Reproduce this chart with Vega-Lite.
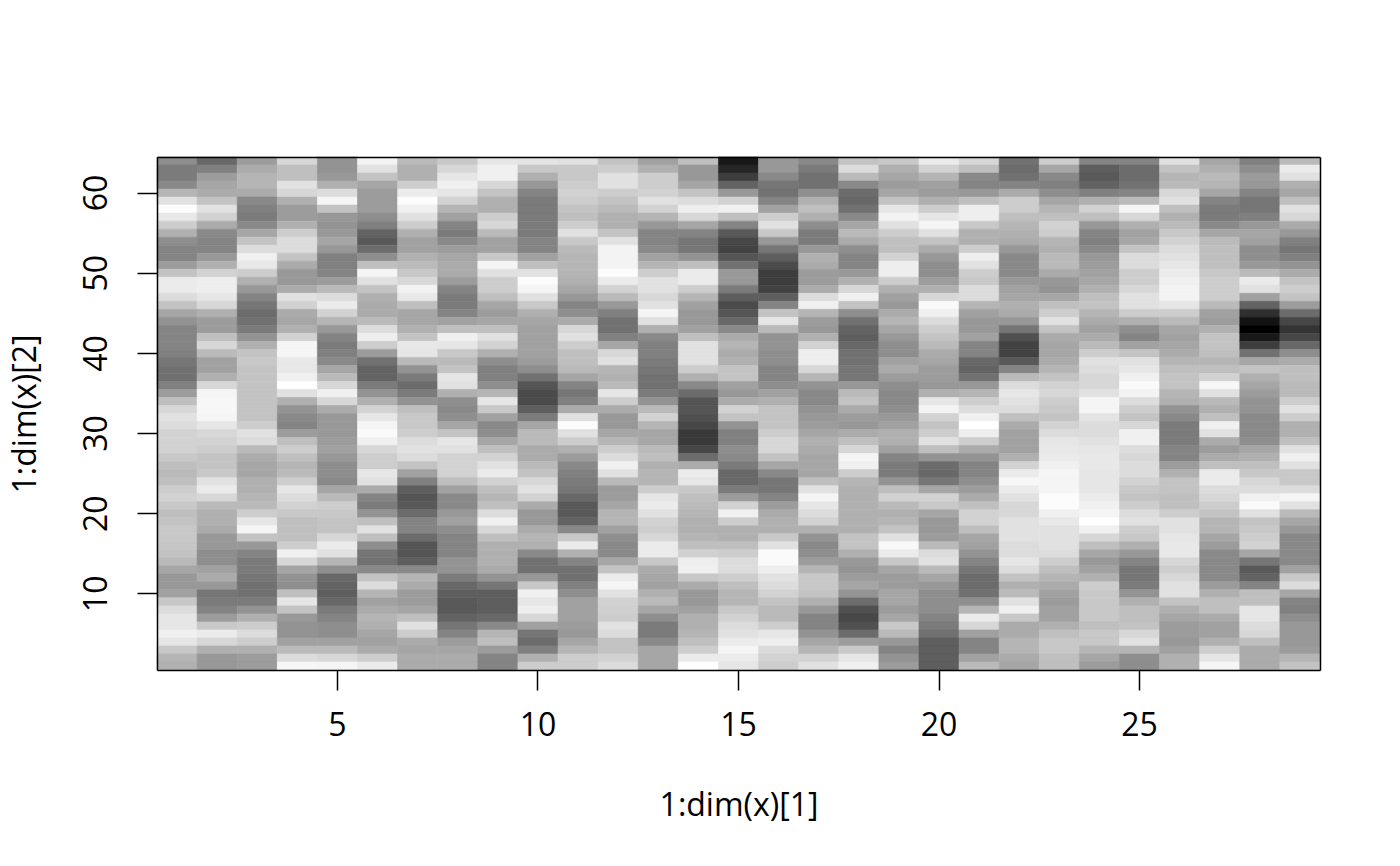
{"$schema":"https://vega.github.io/schema/vega-lite/v6.json","autosize":{"type":"none"},"padding":{"left":157,"top":157,"right":80,"bottom":196},"width":1163,"height":513,"background":"white","config":{"view":{"stroke":null},"font":"Open Sans"},
"data":{"values":[
{"x":1,"y":64,"v":140},{"x":1,"y":63,"v":120},{"x":1,"y":62,"v":120},{"x":1,"y":61,"v":135},{"x":1,"y":60,"v":180},{"x":1,"y":59,"v":225},{"x":1,"y":58,"v":252},{"x":1,"y":57,"v":232},{"x":1,"y":56,"v":205},{"x":1,"y":55,"v":175},{"x":1,"y":54,"v":140},{"x":1,"y":53,"v":130},{"x":1,"y":52,"v":130},{"x":1,"y":51,"v":155},{"x":1,"y":50,"v":195},{"x":1,"y":49,"v":235},{"x":1,"y":48,"v":235},{"x":1,"y":47,"v":220},{"x":1,"y":46,"v":195},{"x":1,"y":45,"v":165},{"x":1,"y":44,"v":145},{"x":1,"y":43,"v":130},{"x":1,"y":42,"v":130},{"x":1,"y":41,"v":130},{"x":1,"y":40,"v":125},{"x":1,"y":39,"v":115},{"x":1,"y":38,"v":110},{"x":1,"y":37,"v":110},{"x":1,"y":36,"v":125},{"x":1,"y":35,"v":155},{"x":1,"y":34,"v":190},{"x":1,"y":33,"v":215},{"x":1,"y":32,"v":225},{"x":1,"y":31,"v":220},{"x":1,"y":30,"v":210},{"x":1,"y":29,"v":210},{"x":1,"y":28,"v":210},{"x":1,"y":27,"v":200},{"x":1,"y":26,"v":190},{"x":1,"y":25,"v":185},{"x":1,"y":24,"v":190},{"x":1,"y":23,"v":205},{"x":1,"y":22,"v":210},{"x":1,"y":21,"v":200},{"x":1,"y":20,"v":190},{"x":1,"y":19,"v":195},{"x":1,"y":18,"v":200},{"x":1,"y":17,"v":200},{"x":1,"y":16,"v":198},{"x":1,"y":15,"v":195},{"x":1,"y":14,"v":185},{"x":1,"y":13,"v":165},{"x":1,"y":12,"v":150},{"x":1,"y":11,"v":150},{"x":1,"y":10,"v":160},{"x":1,"y":9,"v":200},{"x":1,"y":8,"v":220},{"x":1,"y":7,"v":230},{"x":1,"y":6,"v":230},{"x":1,"y":5,"v":240},{"x":1,"y":4,"v":230},{"x":1,"y":3,"v":200},{"x":1,"y":2,"v":180},{"x":1,"y":1,"v":175},
{"x":2,"y":64,"v":100},{"x":2,"y":63,"v":125},{"x":2,"y":62,"v":155},{"x":2,"y":61,"v":165},{"x":2,"y":60,"v":170},{"x":2,"y":59,"v":195},{"x":2,"y":58,"v":225},{"x":2,"y":57,"v":210},{"x":2,"y":56,"v":170},{"x":2,"y":55,"v":135},{"x":2,"y":54,"v":130},{"x":2,"y":53,"v":130},{"x":2,"y":52,"v":150},{"x":2,"y":51,"v":175},{"x":2,"y":50,"v":210},{"x":2,"y":49,"v":238},{"x":2,"y":48,"v":238},{"x":2,"y":47,"v":230},{"x":2,"y":46,"v":215},{"x":2,"y":45,"v":175},{"x":2,"y":44,"v":155},{"x":2,"y":43,"v":155},{"x":2,"y":42,"v":190},{"x":2,"y":41,"v":215},{"x":2,"y":40,"v":185},{"x":2,"y":39,"v":160},{"x":2,"y":38,"v":160},{"x":2,"y":37,"v":175},{"x":2,"y":36,"v":215},{"x":2,"y":35,"v":245},{"x":2,"y":34,"v":247},{"x":2,"y":33,"v":247},{"x":2,"y":32,"v":245},{"x":2,"y":31,"v":230},{"x":2,"y":30,"v":215},{"x":2,"y":29,"v":210},{"x":2,"y":28,"v":205},{"x":2,"y":27,"v":195},{"x":2,"y":26,"v":195},{"x":2,"y":25,"v":200},{"x":2,"y":24,"v":225},{"x":2,"y":23,"v":235},{"x":2,"y":22,"v":215},{"x":2,"y":21,"v":185},{"x":2,"y":20,"v":175},{"x":2,"y":19,"v":175},{"x":2,"y":18,"v":170},{"x":2,"y":17,"v":150},{"x":2,"y":16,"v":150},{"x":2,"y":15,"v":140},{"x":2,"y":14,"v":140},{"x":2,"y":13,"v":160},{"x":2,"y":12,"v":170},{"x":2,"y":11,"v":150},{"x":2,"y":10,"v":115},{"x":2,"y":9,"v":120},{"x":2,"y":8,"v":130},{"x":2,"y":7,"v":155},{"x":2,"y":6,"v":200},{"x":2,"y":5,"v":235},{"x":2,"y":4,"v":215},{"x":2,"y":3,"v":175},{"x":2,"y":2,"v":150},{"x":2,"y":1,"v":150},
{"x":3,"y":64,"v":155},{"x":3,"y":63,"v":170},{"x":3,"y":62,"v":180},{"x":3,"y":61,"v":180},{"x":3,"y":60,"v":170},{"x":3,"y":59,"v":135},{"x":3,"y":58,"v":125},{"x":3,"y":57,"v":120},{"x":3,"y":56,"v":135},{"x":3,"y":55,"v":165},{"x":3,"y":54,"v":195},{"x":3,"y":53,"v":220},{"x":3,"y":52,"v":240},{"x":3,"y":51,"v":232},{"x":3,"y":50,"v":205},{"x":3,"y":49,"v":175},{"x":3,"y":48,"v":150},{"x":3,"y":47,"v":130},{"x":3,"y":46,"v":115},{"x":3,"y":45,"v":105},{"x":3,"y":44,"v":110},{"x":3,"y":43,"v":120},{"x":3,"y":42,"v":145},{"x":3,"y":41,"v":175},{"x":3,"y":40,"v":195},{"x":3,"y":39,"v":200},{"x":3,"y":38,"v":195},{"x":3,"y":37,"v":195},{"x":3,"y":36,"v":195},{"x":3,"y":35,"v":195},{"x":3,"y":34,"v":195},{"x":3,"y":33,"v":195},{"x":3,"y":32,"v":195},{"x":3,"y":31,"v":205},{"x":3,"y":30,"v":225},{"x":3,"y":29,"v":220},{"x":3,"y":28,"v":185},{"x":3,"y":27,"v":170},{"x":3,"y":26,"v":165},{"x":3,"y":25,"v":165},{"x":3,"y":24,"v":175},{"x":3,"y":23,"v":175},{"x":3,"y":22,"v":180},{"x":3,"y":21,"v":185},{"x":3,"y":20,"v":205},{"x":3,"y":19,"v":230},{"x":3,"y":18,"v":245},{"x":3,"y":17,"v":195},{"x":3,"y":16,"v":150},{"x":3,"y":15,"v":130},{"x":3,"y":14,"v":120},{"x":3,"y":13,"v":120},{"x":3,"y":12,"v":115},{"x":3,"y":11,"v":110},{"x":3,"y":10,"v":110},{"x":3,"y":9,"v":120},{"x":3,"y":8,"v":145},{"x":3,"y":7,"v":175},{"x":3,"y":6,"v":205},{"x":3,"y":5,"v":220},{"x":3,"y":4,"v":205},{"x":3,"y":3,"v":175},{"x":3,"y":2,"v":155},{"x":3,"y":1,"v":155},
{"x":4,"y":64,"v":215},{"x":4,"y":63,"v":190},{"x":4,"y":62,"v":190},{"x":4,"y":61,"v":225},{"x":4,"y":60,"v":215},{"x":4,"y":59,"v":175},{"x":4,"y":58,"v":155},{"x":4,"y":57,"v":155},{"x":4,"y":56,"v":175},{"x":4,"y":55,"v":205},{"x":4,"y":54,"v":220},{"x":4,"y":53,"v":220},{"x":4,"y":52,"v":195},{"x":4,"y":51,"v":170},{"x":4,"y":50,"v":150},{"x":4,"y":49,"v":150},{"x":4,"y":48,"v":170},{"x":4,"y":47,"v":225},{"x":4,"y":46,"v":210},{"x":4,"y":45,"v":170},{"x":4,"y":44,"v":165},{"x":4,"y":43,"v":175},{"x":4,"y":42,"v":210},{"x":4,"y":41,"v":245},{"x":4,"y":40,"v":245},{"x":4,"y":39,"v":232},{"x":4,"y":38,"v":232},{"x":4,"y":37,"v":240},{"x":4,"y":36,"v":255},{"x":4,"y":35,"v":225},{"x":4,"y":34,"v":175},{"x":4,"y":33,"v":145},{"x":4,"y":32,"v":135},{"x":4,"y":31,"v":130},{"x":4,"y":30,"v":155},{"x":4,"y":29,"v":190},{"x":4,"y":28,"v":205},{"x":4,"y":27,"v":190},{"x":4,"y":26,"v":180},{"x":4,"y":25,"v":185},{"x":4,"y":24,"v":205},{"x":4,"y":23,"v":230},{"x":4,"y":22,"v":220},{"x":4,"y":21,"v":210},{"x":4,"y":20,"v":200},{"x":4,"y":19,"v":190},{"x":4,"y":18,"v":190},{"x":4,"y":17,"v":190},{"x":4,"y":16,"v":205},{"x":4,"y":15,"v":240},{"x":4,"y":14,"v":215},{"x":4,"y":13,"v":165},{"x":4,"y":12,"v":145},{"x":4,"y":11,"v":140},{"x":4,"y":10,"v":190},{"x":4,"y":9,"v":230},{"x":4,"y":8,"v":195},{"x":4,"y":7,"v":150},{"x":4,"y":6,"v":145},{"x":4,"y":5,"v":145},{"x":4,"y":4,"v":160},{"x":4,"y":3,"v":185},{"x":4,"y":2,"v":220},{"x":4,"y":1,"v":247},
{"x":5,"y":64,"v":145},{"x":5,"y":63,"v":145},{"x":5,"y":62,"v":150},{"x":5,"y":61,"v":175},{"x":5,"y":60,"v":220},{"x":5,"y":59,"v":245},{"x":5,"y":58,"v":195},{"x":5,"y":57,"v":150},{"x":5,"y":56,"v":145},{"x":5,"y":55,"v":150},{"x":5,"y":54,"v":165},{"x":5,"y":53,"v":150},{"x":5,"y":52,"v":125},{"x":5,"y":51,"v":125},{"x":5,"y":50,"v":130},{"x":5,"y":49,"v":155},{"x":5,"y":48,"v":185},{"x":5,"y":47,"v":220},{"x":5,"y":46,"v":235},{"x":5,"y":45,"v":210},{"x":5,"y":44,"v":180},{"x":5,"y":43,"v":150},{"x":5,"y":42,"v":130},{"x":5,"y":41,"v":120},{"x":5,"y":40,"v":125},{"x":5,"y":39,"v":135},{"x":5,"y":38,"v":165},{"x":5,"y":37,"v":185},{"x":5,"y":36,"v":215},{"x":5,"y":35,"v":240},{"x":5,"y":34,"v":215},{"x":5,"y":33,"v":170},{"x":5,"y":32,"v":150},{"x":5,"y":31,"v":150},{"x":5,"y":30,"v":150},{"x":5,"y":29,"v":155},{"x":5,"y":28,"v":160},{"x":5,"y":27,"v":150},{"x":5,"y":26,"v":140},{"x":5,"y":25,"v":140},{"x":5,"y":24,"v":135},{"x":5,"y":23,"v":165},{"x":5,"y":22,"v":185},{"x":5,"y":21,"v":205},{"x":5,"y":20,"v":200},{"x":5,"y":19,"v":195},{"x":5,"y":18,"v":195},{"x":5,"y":17,"v":215},{"x":5,"y":16,"v":235},{"x":5,"y":15,"v":225},{"x":5,"y":14,"v":180},{"x":5,"y":13,"v":140},{"x":5,"y":12,"v":100},{"x":5,"y":11,"v":95},{"x":5,"y":10,"v":90},{"x":5,"y":9,"v":100},{"x":5,"y":8,"v":120},{"x":5,"y":7,"v":130},{"x":5,"y":6,"v":140},{"x":5,"y":5,"v":140},{"x":5,"y":4,"v":160},{"x":5,"y":3,"v":185},{"x":5,"y":2,"v":215},{"x":5,"y":1,"v":245},
{"x":6,"y":64,"v":243},{"x":6,"y":63,"v":225},{"x":6,"y":62,"v":195},{"x":6,"y":61,"v":165},{"x":6,"y":60,"v":155},{"x":6,"y":59,"v":155},{"x":6,"y":58,"v":155},{"x":6,"y":57,"v":140},{"x":6,"y":56,"v":125},{"x":6,"y":55,"v":95},{"x":6,"y":54,"v":85},{"x":6,"y":53,"v":105},{"x":6,"y":52,"v":140},{"x":6,"y":51,"v":190},{"x":6,"y":50,"v":245},{"x":6,"y":49,"v":225},{"x":6,"y":48,"v":195},{"x":6,"y":47,"v":175},{"x":6,"y":46,"v":170},{"x":6,"y":45,"v":170},{"x":6,"y":44,"v":185},{"x":6,"y":43,"v":220},{"x":6,"y":42,"v":238},{"x":6,"y":41,"v":205},{"x":6,"y":40,"v":155},{"x":6,"y":39,"v":110},{"x":6,"y":38,"v":95},{"x":6,"y":37,"v":95},{"x":6,"y":36,"v":120},{"x":6,"y":35,"v":145},{"x":6,"y":34,"v":175},{"x":6,"y":33,"v":210},{"x":6,"y":32,"v":230},{"x":6,"y":31,"v":245},{"x":6,"y":30,"v":250},{"x":6,"y":29,"v":240},{"x":6,"y":28,"v":215},{"x":6,"y":27,"v":205},{"x":6,"y":26,"v":205},{"x":6,"y":25,"v":230},{"x":6,"y":24,"v":225},{"x":6,"y":23,"v":170},{"x":6,"y":22,"v":130},{"x":6,"y":21,"v":120},{"x":6,"y":20,"v":145},{"x":6,"y":19,"v":190},{"x":6,"y":18,"v":225},{"x":6,"y":17,"v":190},{"x":6,"y":16,"v":140},{"x":6,"y":15,"v":115},{"x":6,"y":14,"v":110},{"x":6,"y":13,"v":135},{"x":6,"y":12,"v":195},{"x":6,"y":11,"v":220},{"x":6,"y":10,"v":180},{"x":6,"y":9,"v":160},{"x":6,"y":8,"v":170},{"x":6,"y":7,"v":180},{"x":6,"y":6,"v":175},{"x":6,"y":5,"v":165},{"x":6,"y":4,"v":160},{"x":6,"y":3,"v":170},{"x":6,"y":2,"v":205},{"x":6,"y":1,"v":235},
{"x":7,"y":64,"v":185},{"x":7,"y":63,"v":175},{"x":7,"y":62,"v":175},{"x":7,"y":61,"v":205},{"x":7,"y":60,"v":235},{"x":7,"y":59,"v":252},{"x":7,"y":58,"v":240},{"x":7,"y":57,"v":225},{"x":7,"y":56,"v":205},{"x":7,"y":55,"v":175},{"x":7,"y":54,"v":160},{"x":7,"y":53,"v":160},{"x":7,"y":52,"v":175},{"x":7,"y":51,"v":185},{"x":7,"y":50,"v":200},{"x":7,"y":49,"v":215},{"x":7,"y":48,"v":242},{"x":7,"y":47,"v":232},{"x":7,"y":46,"v":190},{"x":7,"y":45,"v":165},{"x":7,"y":44,"v":165},{"x":7,"y":43,"v":175},{"x":7,"y":42,"v":195},{"x":7,"y":41,"v":232},{"x":7,"y":40,"v":230},{"x":7,"y":39,"v":185},{"x":7,"y":38,"v":145},{"x":7,"y":37,"v":120},{"x":7,"y":36,"v":105},{"x":7,"y":35,"v":120},{"x":7,"y":34,"v":145},{"x":7,"y":33,"v":190},{"x":7,"y":32,"v":200},{"x":7,"y":31,"v":200},{"x":7,"y":30,"v":205},{"x":7,"y":29,"v":220},{"x":7,"y":28,"v":225},{"x":7,"y":27,"v":220},{"x":7,"y":26,"v":195},{"x":7,"y":25,"v":160},{"x":7,"y":24,"v":125},{"x":7,"y":23,"v":90},{"x":7,"y":22,"v":80},{"x":7,"y":21,"v":85},{"x":7,"y":20,"v":105},{"x":7,"y":19,"v":130},{"x":7,"y":18,"v":130},{"x":7,"y":17,"v":105},{"x":7,"y":16,"v":80},{"x":7,"y":15,"v":80},{"x":7,"y":14,"v":90},{"x":7,"y":13,"v":135},{"x":7,"y":12,"v":180},{"x":7,"y":11,"v":170},{"x":7,"y":10,"v":155},{"x":7,"y":9,"v":155},{"x":7,"y":8,"v":165},{"x":7,"y":7,"v":190},{"x":7,"y":6,"v":225},{"x":7,"y":5,"v":205},{"x":7,"y":4,"v":170},{"x":7,"y":3,"v":165},{"x":7,"y":2,"v":170},{"x":7,"y":1,"v":170},
{"x":8,"y":64,"v":200},{"x":8,"y":63,"v":215},{"x":8,"y":62,"v":230},{"x":8,"y":61,"v":240},{"x":8,"y":60,"v":230},{"x":8,"y":59,"v":210},{"x":8,"y":58,"v":180},{"x":8,"y":57,"v":160},{"x":8,"y":56,"v":130},{"x":8,"y":55,"v":120},{"x":8,"y":54,"v":135},{"x":8,"y":53,"v":155},{"x":8,"y":52,"v":165},{"x":8,"y":51,"v":170},{"x":8,"y":50,"v":170},{"x":8,"y":49,"v":155},{"x":8,"y":48,"v":130},{"x":8,"y":47,"v":120},{"x":8,"y":46,"v":120},{"x":8,"y":45,"v":130},{"x":8,"y":44,"v":160},{"x":8,"y":43,"v":190},{"x":8,"y":42,"v":240},{"x":8,"y":41,"v":230},{"x":8,"y":40,"v":200},{"x":8,"y":39,"v":185},{"x":8,"y":38,"v":195},{"x":8,"y":37,"v":230},{"x":8,"y":36,"v":225},{"x":8,"y":35,"v":175},{"x":8,"y":34,"v":140},{"x":8,"y":33,"v":135},{"x":8,"y":32,"v":140},{"x":8,"y":31,"v":165},{"x":8,"y":30,"v":195},{"x":8,"y":29,"v":230},{"x":8,"y":28,"v":225},{"x":8,"y":27,"v":210},{"x":8,"y":26,"v":210},{"x":8,"y":25,"v":210},{"x":8,"y":24,"v":190},{"x":8,"y":23,"v":160},{"x":8,"y":22,"v":135},{"x":8,"y":21,"v":135},{"x":8,"y":20,"v":150},{"x":8,"y":19,"v":160},{"x":8,"y":18,"v":140},{"x":8,"y":17,"v":130},{"x":8,"y":16,"v":130},{"x":8,"y":15,"v":130},{"x":8,"y":14,"v":145},{"x":8,"y":13,"v":145},{"x":8,"y":12,"v":120},{"x":8,"y":11,"v":100},{"x":8,"y":10,"v":90},{"x":8,"y":9,"v":85},{"x":8,"y":8,"v":85},{"x":8,"y":7,"v":95},{"x":8,"y":6,"v":115},{"x":8,"y":5,"v":130},{"x":8,"y":4,"v":155},{"x":8,"y":3,"v":165},{"x":8,"y":2,"v":170},{"x":8,"y":1,"v":170},
{"x":9,"y":64,"v":230},{"x":9,"y":63,"v":240},{"x":9,"y":62,"v":240},{"x":9,"y":61,"v":215},{"x":9,"y":60,"v":195},{"x":9,"y":59,"v":175},{"x":9,"y":58,"v":175},{"x":9,"y":57,"v":205},{"x":9,"y":56,"v":215},{"x":9,"y":55,"v":185},{"x":9,"y":54,"v":160},{"x":9,"y":53,"v":160},{"x":9,"y":52,"v":200},{"x":9,"y":51,"v":245},{"x":9,"y":50,"v":225},{"x":9,"y":49,"v":205},{"x":9,"y":48,"v":205},{"x":9,"y":47,"v":190},{"x":9,"y":46,"v":165},{"x":9,"y":45,"v":155},{"x":9,"y":44,"v":165},{"x":9,"y":43,"v":190},{"x":9,"y":42,"v":225},{"x":9,"y":41,"v":210},{"x":9,"y":40,"v":175},{"x":9,"y":39,"v":140},{"x":9,"y":38,"v":125},{"x":9,"y":37,"v":125},{"x":9,"y":36,"v":140},{"x":9,"y":35,"v":180},{"x":9,"y":34,"v":230},{"x":9,"y":33,"v":200},{"x":9,"y":32,"v":160},{"x":9,"y":31,"v":135},{"x":9,"y":30,"v":140},{"x":9,"y":29,"v":165},{"x":9,"y":28,"v":190},{"x":9,"y":27,"v":210},{"x":9,"y":26,"v":225},{"x":9,"y":25,"v":235},{"x":9,"y":24,"v":210},{"x":9,"y":23,"v":190},{"x":9,"y":22,"v":180},{"x":9,"y":21,"v":190},{"x":9,"y":20,"v":220},{"x":9,"y":19,"v":240},{"x":9,"y":18,"v":215},{"x":9,"y":17,"v":190},{"x":9,"y":16,"v":175},{"x":9,"y":15,"v":175},{"x":9,"y":14,"v":175},{"x":9,"y":13,"v":170},{"x":9,"y":12,"v":145},{"x":9,"y":11,"v":115},{"x":9,"y":10,"v":90},{"x":9,"y":9,"v":90},{"x":9,"y":8,"v":90},{"x":9,"y":7,"v":100},{"x":9,"y":6,"v":135},{"x":9,"y":5,"v":180},{"x":9,"y":4,"v":190},{"x":9,"y":3,"v":155},{"x":9,"y":2,"v":130},{"x":9,"y":1,"v":130},
{"x":10,"y":64,"v":228},{"x":10,"y":63,"v":200},{"x":10,"y":62,"v":175},{"x":10,"y":61,"v":150},{"x":10,"y":60,"v":130},{"x":10,"y":59,"v":120},{"x":10,"y":58,"v":120},{"x":10,"y":57,"v":120},{"x":10,"y":56,"v":120},{"x":10,"y":55,"v":120},{"x":10,"y":54,"v":130},{"x":10,"y":53,"v":130},{"x":10,"y":52,"v":160},{"x":10,"y":51,"v":190},{"x":10,"y":50,"v":225},{"x":10,"y":49,"v":252},{"x":10,"y":48,"v":245},{"x":10,"y":47,"v":225},{"x":10,"y":46,"v":200},{"x":10,"y":45,"v":175},{"x":10,"y":44,"v":165},{"x":10,"y":43,"v":160},{"x":10,"y":42,"v":160},{"x":10,"y":41,"v":160},{"x":10,"y":40,"v":160},{"x":10,"y":39,"v":155},{"x":10,"y":38,"v":140},{"x":10,"y":37,"v":110},{"x":10,"y":36,"v":80},{"x":10,"y":35,"v":70},{"x":10,"y":34,"v":70},{"x":10,"y":33,"v":90},{"x":10,"y":32,"v":120},{"x":10,"y":31,"v":165},{"x":10,"y":30,"v":185},{"x":10,"y":29,"v":185},{"x":10,"y":28,"v":170},{"x":10,"y":27,"v":170},{"x":10,"y":26,"v":185},{"x":10,"y":25,"v":195},{"x":10,"y":24,"v":215},{"x":10,"y":23,"v":225},{"x":10,"y":22,"v":210},{"x":10,"y":21,"v":170},{"x":10,"y":20,"v":150},{"x":10,"y":19,"v":150},{"x":10,"y":18,"v":170},{"x":10,"y":17,"v":180},{"x":10,"y":16,"v":175},{"x":10,"y":15,"v":135},{"x":10,"y":14,"v":110},{"x":10,"y":13,"v":110},{"x":10,"y":12,"v":150},{"x":10,"y":11,"v":200},{"x":10,"y":10,"v":240},{"x":10,"y":9,"v":230},{"x":10,"y":8,"v":238},{"x":10,"y":7,"v":215},{"x":10,"y":6,"v":160},{"x":10,"y":5,"v":115},{"x":10,"y":4,"v":105},{"x":10,"y":3,"v":125},{"x":10,"y":2,"v":175},{"x":10,"y":1,"v":205},
{"x":11,"y":64,"v":225},{"x":11,"y":63,"v":200},{"x":11,"y":62,"v":200},{"x":11,"y":61,"v":205},{"x":11,"y":60,"v":210},{"x":11,"y":59,"v":205},{"x":11,"y":58,"v":195},{"x":11,"y":57,"v":190},{"x":11,"y":56,"v":205},{"x":11,"y":55,"v":225},{"x":11,"y":54,"v":200},{"x":11,"y":53,"v":185},{"x":11,"y":52,"v":180},{"x":11,"y":51,"v":180},{"x":11,"y":50,"v":180},{"x":11,"y":49,"v":175},{"x":11,"y":48,"v":165},{"x":11,"y":47,"v":150},{"x":11,"y":46,"v":130},{"x":11,"y":45,"v":140},{"x":11,"y":44,"v":170},{"x":11,"y":43,"v":215},{"x":11,"y":42,"v":225},{"x":11,"y":41,"v":205},{"x":11,"y":40,"v":190},{"x":11,"y":39,"v":190},{"x":11,"y":38,"v":185},{"x":11,"y":37,"v":165},{"x":11,"y":36,"v":130},{"x":11,"y":35,"v":115},{"x":11,"y":34,"v":125},{"x":11,"y":33,"v":170},{"x":11,"y":32,"v":225},{"x":11,"y":31,"v":252},{"x":11,"y":30,"v":225},{"x":11,"y":29,"v":205},{"x":11,"y":28,"v":175},{"x":11,"y":27,"v":155},{"x":11,"y":26,"v":135},{"x":11,"y":25,"v":125},{"x":11,"y":24,"v":120},{"x":11,"y":23,"v":115},{"x":11,"y":22,"v":100},{"x":11,"y":21,"v":85},{"x":11,"y":20,"v":85},{"x":11,"y":19,"v":95},{"x":11,"y":18,"v":135},{"x":11,"y":17,"v":200},{"x":11,"y":16,"v":235},{"x":11,"y":15,"v":175},{"x":11,"y":14,"v":130},{"x":11,"y":13,"v":110},{"x":11,"y":12,"v":110},{"x":11,"y":11,"v":125},{"x":11,"y":10,"v":140},{"x":11,"y":9,"v":160},{"x":11,"y":8,"v":160},{"x":11,"y":7,"v":160},{"x":11,"y":6,"v":155},{"x":11,"y":5,"v":150},{"x":11,"y":4,"v":165},{"x":11,"y":3,"v":180},{"x":11,"y":2,"v":205},{"x":11,"y":1,"v":205},
{"x":12,"y":64,"v":195},{"x":12,"y":63,"v":205},{"x":12,"y":62,"v":225},{"x":12,"y":61,"v":225},{"x":12,"y":60,"v":205},{"x":12,"y":59,"v":195},{"x":12,"y":58,"v":185},{"x":12,"y":57,"v":175},{"x":12,"y":56,"v":175},{"x":12,"y":55,"v":195},{"x":12,"y":54,"v":225},{"x":12,"y":53,"v":243},{"x":12,"y":52,"v":243},{"x":12,"y":51,"v":243},{"x":12,"y":50,"v":252},{"x":12,"y":49,"v":235},{"x":12,"y":48,"v":210},{"x":12,"y":47,"v":185},{"x":12,"y":46,"v":150},{"x":12,"y":45,"v":125},{"x":12,"y":44,"v":110},{"x":12,"y":43,"v":110},{"x":12,"y":42,"v":125},{"x":12,"y":41,"v":165},{"x":12,"y":40,"v":215},{"x":12,"y":39,"v":225},{"x":12,"y":38,"v":180},{"x":12,"y":37,"v":175},{"x":12,"y":36,"v":185},{"x":12,"y":35,"v":230},{"x":12,"y":34,"v":205},{"x":12,"y":33,"v":170},{"x":12,"y":32,"v":150},{"x":12,"y":31,"v":150},{"x":12,"y":30,"v":165},{"x":12,"y":29,"v":180},{"x":12,"y":28,"v":205},{"x":12,"y":27,"v":220},{"x":12,"y":26,"v":240},{"x":12,"y":25,"v":225},{"x":12,"y":24,"v":185},{"x":12,"y":23,"v":155},{"x":12,"y":22,"v":155},{"x":12,"y":21,"v":165},{"x":12,"y":20,"v":180},{"x":12,"y":19,"v":180},{"x":12,"y":18,"v":160},{"x":12,"y":17,"v":140},{"x":12,"y":16,"v":135},{"x":12,"y":15,"v":135},{"x":12,"y":14,"v":165},{"x":12,"y":13,"v":195},{"x":12,"y":12,"v":235},{"x":12,"y":11,"v":245},{"x":12,"y":10,"v":225},{"x":12,"y":9,"v":210},{"x":12,"y":8,"v":208},{"x":12,"y":7,"v":205},{"x":12,"y":6,"v":225},{"x":12,"y":5,"v":220},{"x":12,"y":4,"v":195},{"x":12,"y":3,"v":195},{"x":12,"y":2,"v":210},{"x":12,"y":1,"v":220},
{"x":13,"y":64,"v":160},{"x":13,"y":63,"v":175},{"x":13,"y":62,"v":205},{"x":13,"y":61,"v":205},{"x":13,"y":60,"v":210},{"x":13,"y":59,"v":225},{"x":13,"y":58,"v":210},{"x":13,"y":57,"v":180},{"x":13,"y":56,"v":150},{"x":13,"y":55,"v":130},{"x":13,"y":54,"v":130},{"x":13,"y":53,"v":135},{"x":13,"y":52,"v":160},{"x":13,"y":51,"v":180},{"x":13,"y":50,"v":205},{"x":13,"y":49,"v":225},{"x":13,"y":48,"v":225},{"x":13,"y":47,"v":215},{"x":13,"y":46,"v":225},{"x":13,"y":45,"v":245},{"x":13,"y":44,"v":225},{"x":13,"y":43,"v":175},{"x":13,"y":42,"v":135},{"x":13,"y":41,"v":125},{"x":13,"y":40,"v":125},{"x":13,"y":39,"v":120},{"x":13,"y":38,"v":115},{"x":13,"y":37,"v":110},{"x":13,"y":36,"v":110},{"x":13,"y":35,"v":120},{"x":13,"y":34,"v":145},{"x":13,"y":33,"v":185},{"x":13,"y":32,"v":210},{"x":13,"y":31,"v":180},{"x":13,"y":30,"v":165},{"x":13,"y":29,"v":165},{"x":13,"y":28,"v":185},{"x":13,"y":27,"v":190},{"x":13,"y":26,"v":175},{"x":13,"y":25,"v":180},{"x":13,"y":24,"v":180},{"x":13,"y":23,"v":205},{"x":13,"y":22,"v":230},{"x":13,"y":21,"v":235},{"x":13,"y":20,"v":225},{"x":13,"y":19,"v":210},{"x":13,"y":18,"v":205},{"x":13,"y":17,"v":215},{"x":13,"y":16,"v":235},{"x":13,"y":15,"v":235},{"x":13,"y":14,"v":200},{"x":13,"y":13,"v":170},{"x":13,"y":12,"v":165},{"x":13,"y":11,"v":160},{"x":13,"y":10,"v":175},{"x":13,"y":9,"v":185},{"x":13,"y":8,"v":165},{"x":13,"y":7,"v":140},{"x":13,"y":6,"v":120},{"x":13,"y":5,"v":120},{"x":13,"y":4,"v":135},{"x":13,"y":3,"v":165},{"x":13,"y":2,"v":165},{"x":13,"y":1,"v":165},
{"x":14,"y":64,"v":190},{"x":14,"y":63,"v":150},{"x":14,"y":62,"v":150},{"x":14,"y":61,"v":165},{"x":14,"y":60,"v":195},{"x":14,"y":59,"v":220},{"x":14,"y":58,"v":238},{"x":14,"y":57,"v":215},{"x":14,"y":56,"v":165},{"x":14,"y":55,"v":130},{"x":14,"y":54,"v":115},{"x":14,"y":53,"v":115},{"x":14,"y":52,"v":145},{"x":14,"y":51,"v":190},{"x":14,"y":50,"v":235},{"x":14,"y":49,"v":235},{"x":14,"y":48,"v":205},{"x":14,"y":47,"v":180},{"x":14,"y":46,"v":160},{"x":14,"y":45,"v":150},{"x":14,"y":44,"v":150},{"x":14,"y":43,"v":160},{"x":14,"y":42,"v":190},{"x":14,"y":41,"v":225},{"x":14,"y":40,"v":225},{"x":14,"y":39,"v":225},{"x":14,"y":38,"v":205},{"x":14,"y":37,"v":175},{"x":14,"y":36,"v":135},{"x":14,"y":35,"v":105},{"x":14,"y":34,"v":80},{"x":14,"y":33,"v":80},{"x":14,"y":32,"v":75},{"x":14,"y":31,"v":65},{"x":14,"y":30,"v":50},{"x":14,"y":29,"v":50},{"x":14,"y":28,"v":65},{"x":14,"y":27,"v":105},{"x":14,"y":26,"v":170},{"x":14,"y":25,"v":235},{"x":14,"y":24,"v":230},{"x":14,"y":23,"v":200},{"x":14,"y":22,"v":190},{"x":14,"y":21,"v":185},{"x":14,"y":20,"v":180},{"x":14,"y":19,"v":175},{"x":14,"y":18,"v":175},{"x":14,"y":17,"v":180},{"x":14,"y":16,"v":190},{"x":14,"y":15,"v":208},{"x":14,"y":14,"v":238},{"x":14,"y":13,"v":240},{"x":14,"y":12,"v":200},{"x":14,"y":11,"v":170},{"x":14,"y":10,"v":150},{"x":14,"y":9,"v":150},{"x":14,"y":8,"v":160},{"x":14,"y":7,"v":175},{"x":14,"y":6,"v":175},{"x":14,"y":5,"v":180},{"x":14,"y":4,"v":190},{"x":14,"y":3,"v":205},{"x":14,"y":2,"v":235},{"x":14,"y":1,"v":255},
{"x":15,"y":64,"v":15},{"x":15,"y":63,"v":30},{"x":15,"y":62,"v":55},{"x":15,"y":61,"v":95},{"x":15,"y":60,"v":150},{"x":15,"y":59,"v":210},{"x":15,"y":58,"v":240},{"x":15,"y":57,"v":190},{"x":15,"y":56,"v":130},{"x":15,"y":55,"v":85},{"x":15,"y":54,"v":65},{"x":15,"y":53,"v":60},{"x":15,"y":52,"v":80},{"x":15,"y":51,"v":110},{"x":15,"y":50,"v":150},{"x":15,"y":49,"v":150},{"x":15,"y":48,"v":120},{"x":15,"y":47,"v":90},{"x":15,"y":46,"v":70},{"x":15,"y":45,"v":80},{"x":15,"y":44,"v":100},{"x":15,"y":43,"v":135},{"x":15,"y":42,"v":170},{"x":15,"y":41,"v":180},{"x":15,"y":40,"v":170},{"x":15,"y":39,"v":175},{"x":15,"y":38,"v":195},{"x":15,"y":37,"v":195},{"x":15,"y":36,"v":160},{"x":15,"y":35,"v":150},{"x":15,"y":34,"v":170},{"x":15,"y":33,"v":210},{"x":15,"y":32,"v":195},{"x":15,"y":31,"v":145},{"x":15,"y":30,"v":125},{"x":15,"y":29,"v":125},{"x":15,"y":28,"v":140},{"x":15,"y":27,"v":135},{"x":15,"y":26,"v":120},{"x":15,"y":25,"v":100},{"x":15,"y":24,"v":100},{"x":15,"y":23,"v":120},{"x":15,"y":22,"v":155},{"x":15,"y":21,"v":210},{"x":15,"y":20,"v":240},{"x":15,"y":19,"v":205},{"x":15,"y":18,"v":175},{"x":15,"y":17,"v":175},{"x":15,"y":16,"v":190},{"x":15,"y":15,"v":205},{"x":15,"y":14,"v":220},{"x":15,"y":13,"v":220},{"x":15,"y":12,"v":205},{"x":15,"y":11,"v":190},{"x":15,"y":10,"v":180},{"x":15,"y":9,"v":180},{"x":15,"y":8,"v":200},{"x":15,"y":7,"v":210},{"x":15,"y":6,"v":220},{"x":15,"y":5,"v":225},{"x":15,"y":4,"v":235},{"x":15,"y":3,"v":245},{"x":15,"y":2,"v":235},{"x":15,"y":1,"v":230},
{"x":16,"y":64,"v":150},{"x":16,"y":63,"v":150},{"x":16,"y":62,"v":135},{"x":16,"y":61,"v":115},{"x":16,"y":60,"v":110},{"x":16,"y":59,"v":130},{"x":16,"y":58,"v":160},{"x":16,"y":57,"v":205},{"x":16,"y":56,"v":225},{"x":16,"y":55,"v":200},{"x":16,"y":54,"v":150},{"x":16,"y":53,"v":115},{"x":16,"y":52,"v":90},{"x":16,"y":51,"v":70},{"x":16,"y":50,"v":55},{"x":16,"y":49,"v":55},{"x":16,"y":48,"v":60},{"x":16,"y":47,"v":90},{"x":16,"y":46,"v":130},{"x":16,"y":45,"v":195},{"x":16,"y":44,"v":230},{"x":16,"y":43,"v":185},{"x":16,"y":42,"v":145},{"x":16,"y":41,"v":145},{"x":16,"y":40,"v":140},{"x":16,"y":39,"v":140},{"x":16,"y":38,"v":130},{"x":16,"y":37,"v":130},{"x":16,"y":36,"v":140},{"x":16,"y":35,"v":160},{"x":16,"y":34,"v":175},{"x":16,"y":33,"v":195},{"x":16,"y":32,"v":195},{"x":16,"y":31,"v":195},{"x":16,"y":30,"v":205},{"x":16,"y":29,"v":215},{"x":16,"y":28,"v":215},{"x":16,"y":27,"v":195},{"x":16,"y":26,"v":165},{"x":16,"y":25,"v":135},{"x":16,"y":24,"v":115},{"x":16,"y":23,"v":115},{"x":16,"y":22,"v":130},{"x":16,"y":21,"v":155},{"x":16,"y":20,"v":170},{"x":16,"y":19,"v":175},{"x":16,"y":18,"v":175},{"x":16,"y":17,"v":200},{"x":16,"y":16,"v":225},{"x":16,"y":15,"v":250},{"x":16,"y":14,"v":250},{"x":16,"y":13,"v":238},{"x":16,"y":12,"v":225},{"x":16,"y":11,"v":220},{"x":16,"y":10,"v":210},{"x":16,"y":9,"v":195},{"x":16,"y":8,"v":185},{"x":16,"y":7,"v":185},{"x":16,"y":6,"v":205},{"x":16,"y":5,"v":230},{"x":16,"y":4,"v":238},{"x":16,"y":3,"v":218},{"x":16,"y":2,"v":210},{"x":16,"y":1,"v":205},
{"x":17,"y":64,"v":135},{"x":17,"y":63,"v":120},{"x":17,"y":62,"v":110},{"x":17,"y":61,"v":110},{"x":17,"y":60,"v":140},{"x":17,"y":59,"v":175},{"x":17,"y":58,"v":190},{"x":17,"y":57,"v":175},{"x":17,"y":56,"v":140},{"x":17,"y":55,"v":120},{"x":17,"y":54,"v":120},{"x":17,"y":53,"v":150},{"x":17,"y":52,"v":175},{"x":17,"y":51,"v":170},{"x":17,"y":50,"v":155},{"x":17,"y":49,"v":155},{"x":17,"y":48,"v":170},{"x":17,"y":47,"v":220},{"x":17,"y":46,"v":240},{"x":17,"y":45,"v":180},{"x":17,"y":44,"v":155},{"x":17,"y":43,"v":150},{"x":17,"y":42,"v":175},{"x":17,"y":41,"v":210},{"x":17,"y":40,"v":238},{"x":17,"y":39,"v":238},{"x":17,"y":38,"v":215},{"x":17,"y":37,"v":180},{"x":17,"y":36,"v":145},{"x":17,"y":35,"v":135},{"x":17,"y":34,"v":135},{"x":17,"y":33,"v":145},{"x":17,"y":32,"v":150},{"x":17,"y":31,"v":155},{"x":17,"y":30,"v":165},{"x":17,"y":29,"v":175},{"x":17,"y":28,"v":170},{"x":17,"y":27,"v":165},{"x":17,"y":26,"v":165},{"x":17,"y":25,"v":165},{"x":17,"y":24,"v":190},{"x":17,"y":23,"v":225},{"x":17,"y":22,"v":245},{"x":17,"y":21,"v":230},{"x":17,"y":20,"v":220},{"x":17,"y":19,"v":210},{"x":17,"y":18,"v":175},{"x":17,"y":17,"v":145},{"x":17,"y":16,"v":135},{"x":17,"y":15,"v":140},{"x":17,"y":14,"v":155},{"x":17,"y":13,"v":180},{"x":17,"y":12,"v":200},{"x":17,"y":11,"v":200},{"x":17,"y":10,"v":195},{"x":17,"y":9,"v":175},{"x":17,"y":8,"v":150},{"x":17,"y":7,"v":130},{"x":17,"y":6,"v":130},{"x":17,"y":5,"v":145},{"x":17,"y":4,"v":165},{"x":17,"y":3,"v":180},{"x":17,"y":2,"v":210},{"x":17,"y":1,"v":225},
{"x":18,"y":64,"v":195},{"x":18,"y":63,"v":220},{"x":18,"y":62,"v":185},{"x":18,"y":61,"v":135},{"x":18,"y":60,"v":105},{"x":18,"y":59,"v":100},{"x":18,"y":58,"v":110},{"x":18,"y":57,"v":135},{"x":18,"y":56,"v":165},{"x":18,"y":55,"v":185},{"x":18,"y":54,"v":170},{"x":18,"y":53,"v":140},{"x":18,"y":52,"v":130},{"x":18,"y":51,"v":130},{"x":18,"y":50,"v":150},{"x":18,"y":49,"v":175},{"x":18,"y":48,"v":215},{"x":18,"y":47,"v":240},{"x":18,"y":46,"v":195},{"x":18,"y":45,"v":140},{"x":18,"y":44,"v":110},{"x":18,"y":43,"v":95},{"x":18,"y":42,"v":90},{"x":18,"y":41,"v":100},{"x":18,"y":40,"v":110},{"x":18,"y":39,"v":110},{"x":18,"y":38,"v":115},{"x":18,"y":37,"v":115},{"x":18,"y":36,"v":150},{"x":18,"y":35,"v":185},{"x":18,"y":34,"v":195},{"x":18,"y":33,"v":170},{"x":18,"y":32,"v":155},{"x":18,"y":31,"v":150},{"x":18,"y":30,"v":170},{"x":18,"y":29,"v":190},{"x":18,"y":28,"v":215},{"x":18,"y":27,"v":245},{"x":18,"y":26,"v":240},{"x":18,"y":25,"v":205},{"x":18,"y":24,"v":180},{"x":18,"y":23,"v":175},{"x":18,"y":22,"v":175},{"x":18,"y":21,"v":175},{"x":18,"y":20,"v":175},{"x":18,"y":19,"v":175},{"x":18,"y":18,"v":175},{"x":18,"y":17,"v":195},{"x":18,"y":16,"v":195},{"x":18,"y":15,"v":175},{"x":18,"y":14,"v":150},{"x":18,"y":13,"v":145},{"x":18,"y":12,"v":155},{"x":18,"y":11,"v":165},{"x":18,"y":10,"v":145},{"x":18,"y":9,"v":105},{"x":18,"y":8,"v":75},{"x":18,"y":7,"v":65},{"x":18,"y":6,"v":75},{"x":18,"y":5,"v":105},{"x":18,"y":4,"v":155},{"x":18,"y":3,"v":200},{"x":18,"y":2,"v":230},{"x":18,"y":1,"v":240},
{"x":19,"y":64,"v":200},{"x":19,"y":63,"v":175},{"x":19,"y":62,"v":165},{"x":19,"y":61,"v":155},{"x":19,"y":60,"v":165},{"x":19,"y":59,"v":195},{"x":19,"y":58,"v":230},{"x":19,"y":57,"v":243},{"x":19,"y":56,"v":225},{"x":19,"y":55,"v":205},{"x":19,"y":54,"v":190},{"x":19,"y":53,"v":190},{"x":19,"y":52,"v":210},{"x":19,"y":51,"v":238},{"x":19,"y":50,"v":238},{"x":19,"y":49,"v":205},{"x":19,"y":48,"v":175},{"x":19,"y":47,"v":160},{"x":19,"y":46,"v":150},{"x":19,"y":45,"v":170},{"x":19,"y":44,"v":180},{"x":19,"y":43,"v":165},{"x":19,"y":42,"v":150},{"x":19,"y":41,"v":140},{"x":19,"y":40,"v":140},{"x":19,"y":39,"v":160},{"x":19,"y":38,"v":170},{"x":19,"y":37,"v":155},{"x":19,"y":36,"v":140},{"x":19,"y":35,"v":135},{"x":19,"y":34,"v":135},{"x":19,"y":33,"v":140},{"x":19,"y":32,"v":150},{"x":19,"y":31,"v":160},{"x":19,"y":30,"v":175},{"x":19,"y":29,"v":175},{"x":19,"y":28,"v":160},{"x":19,"y":27,"v":130},{"x":19,"y":26,"v":120},{"x":19,"y":25,"v":120},{"x":19,"y":24,"v":145},{"x":19,"y":23,"v":190},{"x":19,"y":22,"v":210},{"x":19,"y":21,"v":185},{"x":19,"y":20,"v":175},{"x":19,"y":19,"v":180},{"x":19,"y":18,"v":195},{"x":19,"y":17,"v":225},{"x":19,"y":16,"v":248},{"x":19,"y":15,"v":235},{"x":19,"y":14,"v":200},{"x":19,"y":13,"v":165},{"x":19,"y":12,"v":155},{"x":19,"y":11,"v":155},{"x":19,"y":10,"v":165},{"x":19,"y":9,"v":165},{"x":19,"y":8,"v":155},{"x":19,"y":7,"v":165},{"x":19,"y":6,"v":200},{"x":19,"y":5,"v":185},{"x":19,"y":4,"v":150},{"x":19,"y":3,"v":130},{"x":19,"y":2,"v":145},{"x":19,"y":1,"v":155},
{"x":20,"y":64,"v":235},{"x":20,"y":63,"v":210},{"x":20,"y":62,"v":180},{"x":20,"y":61,"v":160},{"x":20,"y":60,"v":155},{"x":20,"y":59,"v":175},{"x":20,"y":58,"v":205},{"x":20,"y":57,"v":230},{"x":20,"y":56,"v":245},{"x":20,"y":55,"v":225},{"x":20,"y":54,"v":195},{"x":20,"y":53,"v":170},{"x":20,"y":52,"v":150},{"x":20,"y":51,"v":140},{"x":20,"y":50,"v":140},{"x":20,"y":49,"v":155},{"x":20,"y":48,"v":175},{"x":20,"y":47,"v":215},{"x":20,"y":46,"v":250},{"x":20,"y":45,"v":240},{"x":20,"y":44,"v":220},{"x":20,"y":43,"v":205},{"x":20,"y":42,"v":195},{"x":20,"y":41,"v":185},{"x":20,"y":40,"v":170},{"x":20,"y":39,"v":165},{"x":20,"y":38,"v":155},{"x":20,"y":37,"v":155},{"x":20,"y":36,"v":150},{"x":20,"y":35,"v":175},{"x":20,"y":34,"v":230},{"x":20,"y":33,"v":243},{"x":20,"y":32,"v":210},{"x":20,"y":31,"v":195},{"x":20,"y":30,"v":205},{"x":20,"y":29,"v":225},{"x":20,"y":28,"v":190},{"x":20,"y":27,"v":145},{"x":20,"y":26,"v":105},{"x":20,"y":25,"v":100},{"x":20,"y":24,"v":115},{"x":20,"y":23,"v":165},{"x":20,"y":22,"v":210},{"x":20,"y":21,"v":200},{"x":20,"y":20,"v":165},{"x":20,"y":19,"v":150},{"x":20,"y":18,"v":150},{"x":20,"y":17,"v":155},{"x":20,"y":16,"v":185},{"x":20,"y":15,"v":220},{"x":20,"y":14,"v":225},{"x":20,"y":13,"v":185},{"x":20,"y":12,"v":165},{"x":20,"y":11,"v":150},{"x":20,"y":10,"v":140},{"x":20,"y":9,"v":140},{"x":20,"y":8,"v":140},{"x":20,"y":7,"v":130},{"x":20,"y":6,"v":120},{"x":20,"y":5,"v":110},{"x":20,"y":4,"v":90},{"x":20,"y":3,"v":90},{"x":20,"y":2,"v":90},{"x":20,"y":1,"v":90},
{"x":21,"y":64,"v":215},{"x":21,"y":63,"v":190},{"x":21,"y":62,"v":135},{"x":21,"y":61,"v":130},{"x":21,"y":60,"v":150},{"x":21,"y":59,"v":190},{"x":21,"y":58,"v":238},{"x":21,"y":57,"v":238},{"x":21,"y":56,"v":200},{"x":21,"y":55,"v":175},{"x":21,"y":54,"v":175},{"x":21,"y":53,"v":205},{"x":21,"y":52,"v":238},{"x":21,"y":51,"v":225},{"x":21,"y":50,"v":205},{"x":21,"y":49,"v":200},{"x":21,"y":48,"v":220},{"x":21,"y":47,"v":220},{"x":21,"y":46,"v":180},{"x":21,"y":45,"v":160},{"x":21,"y":44,"v":150},{"x":21,"y":43,"v":150},{"x":21,"y":42,"v":160},{"x":21,"y":41,"v":130},{"x":21,"y":40,"v":130},{"x":21,"y":39,"v":100},{"x":21,"y":38,"v":95},{"x":21,"y":37,"v":110},{"x":21,"y":36,"v":150},{"x":21,"y":35,"v":180},{"x":21,"y":34,"v":205},{"x":21,"y":33,"v":220},{"x":21,"y":32,"v":240},{"x":21,"y":31,"v":255},{"x":21,"y":30,"v":238},{"x":21,"y":29,"v":205},{"x":21,"y":28,"v":170},{"x":21,"y":27,"v":145},{"x":21,"y":26,"v":130},{"x":21,"y":25,"v":130},{"x":21,"y":24,"v":140},{"x":21,"y":23,"v":155},{"x":21,"y":22,"v":170},{"x":21,"y":21,"v":190},{"x":21,"y":20,"v":210},{"x":21,"y":19,"v":210},{"x":21,"y":18,"v":190},{"x":21,"y":17,"v":165},{"x":21,"y":16,"v":160},{"x":21,"y":15,"v":145},{"x":21,"y":14,"v":130},{"x":21,"y":13,"v":115},{"x":21,"y":12,"v":105},{"x":21,"y":11,"v":105},{"x":21,"y":10,"v":110},{"x":21,"y":9,"v":140},{"x":21,"y":8,"v":180},{"x":21,"y":7,"v":235},{"x":21,"y":6,"v":215},{"x":21,"y":5,"v":160},{"x":21,"y":4,"v":130},{"x":21,"y":3,"v":130},{"x":21,"y":2,"v":160},{"x":21,"y":1,"v":185},
{"x":22,"y":64,"v":110},{"x":22,"y":63,"v":105},{"x":22,"y":62,"v":110},{"x":22,"y":61,"v":130},{"x":22,"y":60,"v":170},{"x":22,"y":59,"v":205},{"x":22,"y":58,"v":205},{"x":22,"y":57,"v":190},{"x":22,"y":56,"v":180},{"x":22,"y":55,"v":175},{"x":22,"y":54,"v":170},{"x":22,"y":53,"v":150},{"x":22,"y":52,"v":135},{"x":22,"y":51,"v":135},{"x":22,"y":50,"v":135},{"x":22,"y":49,"v":150},{"x":22,"y":48,"v":160},{"x":22,"y":47,"v":165},{"x":22,"y":46,"v":175},{"x":22,"y":45,"v":170},{"x":22,"y":44,"v":150},{"x":22,"y":43,"v":115},{"x":22,"y":42,"v":75},{"x":22,"y":41,"v":60},{"x":22,"y":40,"v":60},{"x":22,"y":39,"v":85},{"x":22,"y":38,"v":130},{"x":22,"y":37,"v":185},{"x":22,"y":36,"v":220},{"x":22,"y":35,"v":230},{"x":22,"y":34,"v":225},{"x":22,"y":33,"v":220},{"x":22,"y":32,"v":190},{"x":22,"y":31,"v":170},{"x":22,"y":30,"v":160},{"x":22,"y":29,"v":160},{"x":22,"y":28,"v":160},{"x":22,"y":27,"v":175},{"x":22,"y":26,"v":210},{"x":22,"y":25,"v":235},{"x":22,"y":24,"v":247},{"x":22,"y":23,"v":235},{"x":22,"y":22,"v":225},{"x":22,"y":21,"v":215},{"x":22,"y":20,"v":215},{"x":22,"y":19,"v":225},{"x":22,"y":18,"v":225},{"x":22,"y":17,"v":225},{"x":22,"y":16,"v":220},{"x":22,"y":15,"v":220},{"x":22,"y":14,"v":230},{"x":22,"y":13,"v":220},{"x":22,"y":12,"v":195},{"x":22,"y":11,"v":175},{"x":22,"y":10,"v":185},{"x":22,"y":9,"v":225},{"x":22,"y":8,"v":240},{"x":22,"y":7,"v":200},{"x":22,"y":6,"v":170},{"x":22,"y":5,"v":170},{"x":22,"y":4,"v":180},{"x":22,"y":3,"v":180},{"x":22,"y":2,"v":170},{"x":22,"y":1,"v":165},
{"x":23,"y":64,"v":205},{"x":23,"y":63,"v":165},{"x":23,"y":62,"v":135},{"x":23,"y":61,"v":125},{"x":23,"y":60,"v":140},{"x":23,"y":59,"v":165},{"x":23,"y":58,"v":180},{"x":23,"y":57,"v":190},{"x":23,"y":56,"v":210},{"x":23,"y":55,"v":205},{"x":23,"y":54,"v":180},{"x":23,"y":53,"v":175},{"x":23,"y":52,"v":185},{"x":23,"y":51,"v":185},{"x":23,"y":50,"v":170},{"x":23,"y":49,"v":150},{"x":23,"y":48,"v":145},{"x":23,"y":47,"v":165},{"x":23,"y":46,"v":190},{"x":23,"y":45,"v":205},{"x":23,"y":44,"v":225},{"x":23,"y":43,"v":195},{"x":23,"y":42,"v":170},{"x":23,"y":41,"v":165},{"x":23,"y":40,"v":165},{"x":23,"y":39,"v":170},{"x":23,"y":38,"v":180},{"x":23,"y":37,"v":195},{"x":23,"y":36,"v":210},{"x":23,"y":35,"v":215},{"x":23,"y":34,"v":205},{"x":23,"y":33,"v":200},{"x":23,"y":32,"v":195},{"x":23,"y":31,"v":210},{"x":23,"y":30,"v":220},{"x":23,"y":29,"v":230},{"x":23,"y":28,"v":232},{"x":23,"y":27,"v":235},{"x":23,"y":26,"v":240},{"x":23,"y":25,"v":245},{"x":23,"y":24,"v":245},{"x":23,"y":23,"v":245},{"x":23,"y":22,"v":252},{"x":23,"y":21,"v":252},{"x":23,"y":20,"v":240},{"x":23,"y":19,"v":232},{"x":23,"y":18,"v":225},{"x":23,"y":17,"v":225},{"x":23,"y":16,"v":225},{"x":23,"y":15,"v":220},{"x":23,"y":14,"v":205},{"x":23,"y":13,"v":190},{"x":23,"y":12,"v":180},{"x":23,"y":11,"v":170},{"x":23,"y":10,"v":160},{"x":23,"y":9,"v":155},{"x":23,"y":8,"v":160},{"x":23,"y":7,"v":160},{"x":23,"y":6,"v":175},{"x":23,"y":5,"v":190},{"x":23,"y":4,"v":200},{"x":23,"y":3,"v":200},{"x":23,"y":2,"v":190},{"x":23,"y":1,"v":190},
{"x":24,"y":64,"v":130},{"x":24,"y":63,"v":90},{"x":24,"y":62,"v":85},{"x":24,"y":61,"v":95},{"x":24,"y":60,"v":125},{"x":24,"y":59,"v":175},{"x":24,"y":58,"v":210},{"x":24,"y":57,"v":190},{"x":24,"y":56,"v":150},{"x":24,"y":55,"v":130},{"x":24,"y":54,"v":125},{"x":24,"y":53,"v":135},{"x":24,"y":52,"v":150},{"x":24,"y":51,"v":155},{"x":24,"y":50,"v":160},{"x":24,"y":49,"v":165},{"x":24,"y":48,"v":175},{"x":24,"y":47,"v":190},{"x":24,"y":46,"v":195},{"x":24,"y":45,"v":180},{"x":24,"y":44,"v":170},{"x":24,"y":43,"v":160},{"x":24,"y":42,"v":170},{"x":24,"y":41,"v":185},{"x":24,"y":40,"v":205},{"x":24,"y":39,"v":225},{"x":24,"y":38,"v":220},{"x":24,"y":37,"v":215},{"x":24,"y":36,"v":215},{"x":24,"y":35,"v":225},{"x":24,"y":34,"v":245},{"x":24,"y":33,"v":245},{"x":24,"y":32,"v":228},{"x":24,"y":31,"v":220},{"x":24,"y":30,"v":220},{"x":24,"y":29,"v":225},{"x":24,"y":28,"v":230},{"x":24,"y":27,"v":232},{"x":24,"y":26,"v":232},{"x":24,"y":25,"v":230},{"x":24,"y":24,"v":230},{"x":24,"y":23,"v":230},{"x":24,"y":22,"v":235},{"x":24,"y":21,"v":240},{"x":24,"y":20,"v":245},{"x":24,"y":19,"v":255},{"x":24,"y":18,"v":240},{"x":24,"y":17,"v":215},{"x":24,"y":16,"v":190},{"x":24,"y":15,"v":165},{"x":24,"y":14,"v":150},{"x":24,"y":13,"v":160},{"x":24,"y":12,"v":175},{"x":24,"y":11,"v":205},{"x":24,"y":10,"v":200},{"x":24,"y":9,"v":200},{"x":24,"y":8,"v":200},{"x":24,"y":7,"v":200},{"x":24,"y":6,"v":190},{"x":24,"y":5,"v":200},{"x":24,"y":4,"v":200},{"x":24,"y":3,"v":180},{"x":24,"y":2,"v":165},{"x":24,"y":1,"v":155},
{"x":25,"y":64,"v":130},{"x":25,"y":63,"v":105},{"x":25,"y":62,"v":105},{"x":25,"y":61,"v":110},{"x":25,"y":60,"v":130},{"x":25,"y":59,"v":185},{"x":25,"y":58,"v":245},{"x":25,"y":57,"v":215},{"x":25,"y":56,"v":175},{"x":25,"y":55,"v":160},{"x":25,"y":54,"v":165},{"x":25,"y":53,"v":195},{"x":25,"y":52,"v":220},{"x":25,"y":51,"v":220},{"x":25,"y":50,"v":205},{"x":25,"y":49,"v":205},{"x":25,"y":48,"v":215},{"x":25,"y":47,"v":225},{"x":25,"y":46,"v":225},{"x":25,"y":45,"v":205},{"x":25,"y":44,"v":175},{"x":25,"y":43,"v":140},{"x":25,"y":42,"v":130},{"x":25,"y":41,"v":160},{"x":25,"y":40,"v":195},{"x":25,"y":39,"v":225},{"x":25,"y":38,"v":230},{"x":25,"y":37,"v":240},{"x":25,"y":36,"v":250},{"x":25,"y":35,"v":243},{"x":25,"y":34,"v":220},{"x":25,"y":33,"v":205},{"x":25,"y":32,"v":195},{"x":25,"y":31,"v":215},{"x":25,"y":30,"v":240},{"x":25,"y":29,"v":240},{"x":25,"y":28,"v":220},{"x":25,"y":27,"v":215},{"x":25,"y":26,"v":220},{"x":25,"y":25,"v":220},{"x":25,"y":24,"v":210},{"x":25,"y":23,"v":200},{"x":25,"y":22,"v":195},{"x":25,"y":21,"v":205},{"x":25,"y":20,"v":220},{"x":25,"y":19,"v":225},{"x":25,"y":18,"v":205},{"x":25,"y":17,"v":200},{"x":25,"y":16,"v":175},{"x":25,"y":15,"v":150},{"x":25,"y":14,"v":130},{"x":25,"y":13,"v":115},{"x":25,"y":12,"v":115},{"x":25,"y":11,"v":120},{"x":25,"y":10,"v":145},{"x":25,"y":9,"v":175},{"x":25,"y":8,"v":190},{"x":25,"y":7,"v":190},{"x":25,"y":6,"v":195},{"x":25,"y":5,"v":215},{"x":25,"y":4,"v":225},{"x":25,"y":3,"v":180},{"x":25,"y":2,"v":140},{"x":25,"y":1,"v":140},
{"x":26,"y":64,"v":225},{"x":26,"y":63,"v":195},{"x":26,"y":62,"v":180},{"x":26,"y":61,"v":185},{"x":26,"y":60,"v":215},{"x":26,"y":59,"v":225},{"x":26,"y":58,"v":190},{"x":26,"y":57,"v":175},{"x":26,"y":56,"v":185},{"x":26,"y":55,"v":200},{"x":26,"y":54,"v":210},{"x":26,"y":53,"v":220},{"x":26,"y":52,"v":225},{"x":26,"y":51,"v":230},{"x":26,"y":50,"v":235},{"x":26,"y":49,"v":240},{"x":26,"y":48,"v":243},{"x":26,"y":47,"v":243},{"x":26,"y":46,"v":230},{"x":26,"y":45,"v":205},{"x":26,"y":44,"v":185},{"x":26,"y":43,"v":165},{"x":26,"y":42,"v":160},{"x":26,"y":41,"v":165},{"x":26,"y":40,"v":170},{"x":26,"y":39,"v":180},{"x":26,"y":38,"v":190},{"x":26,"y":37,"v":195},{"x":26,"y":36,"v":195},{"x":26,"y":35,"v":180},{"x":26,"y":34,"v":175},{"x":26,"y":33,"v":145},{"x":26,"y":32,"v":135},{"x":26,"y":31,"v":120},{"x":26,"y":30,"v":120},{"x":26,"y":29,"v":120},{"x":26,"y":28,"v":130},{"x":26,"y":27,"v":130},{"x":26,"y":26,"v":155},{"x":26,"y":25,"v":175},{"x":26,"y":24,"v":195},{"x":26,"y":23,"v":195},{"x":26,"y":22,"v":190},{"x":26,"y":21,"v":190},{"x":26,"y":20,"v":205},{"x":26,"y":19,"v":225},{"x":26,"y":18,"v":225},{"x":26,"y":17,"v":230},{"x":26,"y":16,"v":232},{"x":26,"y":15,"v":232},{"x":26,"y":14,"v":215},{"x":26,"y":13,"v":205},{"x":26,"y":12,"v":215},{"x":26,"y":11,"v":225},{"x":26,"y":10,"v":225},{"x":26,"y":9,"v":195},{"x":26,"y":8,"v":175},{"x":26,"y":7,"v":165},{"x":26,"y":6,"v":155},{"x":26,"y":5,"v":155},{"x":26,"y":4,"v":150},{"x":26,"y":3,"v":160},{"x":26,"y":2,"v":175},{"x":26,"y":1,"v":175},
{"x":27,"y":64,"v":165},{"x":27,"y":63,"v":175},{"x":27,"y":62,"v":185},{"x":27,"y":61,"v":180},{"x":27,"y":60,"v":165},{"x":27,"y":59,"v":130},{"x":27,"y":58,"v":120},{"x":27,"y":57,"v":120},{"x":27,"y":56,"v":135},{"x":27,"y":55,"v":165},{"x":27,"y":54,"v":185},{"x":27,"y":53,"v":190},{"x":27,"y":52,"v":190},{"x":27,"y":51,"v":190},{"x":27,"y":50,"v":200},{"x":27,"y":49,"v":205},{"x":27,"y":48,"v":205},{"x":27,"y":47,"v":205},{"x":27,"y":46,"v":185},{"x":27,"y":45,"v":160},{"x":27,"y":44,"v":155},{"x":27,"y":43,"v":175},{"x":27,"y":42,"v":195},{"x":27,"y":41,"v":195},{"x":27,"y":40,"v":190},{"x":27,"y":39,"v":180},{"x":27,"y":38,"v":190},{"x":27,"y":37,"v":210},{"x":27,"y":36,"v":247},{"x":27,"y":35,"v":225},{"x":27,"y":34,"v":185},{"x":27,"y":33,"v":175},{"x":27,"y":32,"v":190},{"x":27,"y":31,"v":240},{"x":27,"y":30,"v":225},{"x":27,"y":29,"v":170},{"x":27,"y":28,"v":155},{"x":27,"y":27,"v":170},{"x":27,"y":26,"v":190},{"x":27,"y":25,"v":235},{"x":27,"y":24,"v":235},{"x":27,"y":23,"v":220},{"x":27,"y":22,"v":215},{"x":27,"y":21,"v":205},{"x":27,"y":20,"v":195},{"x":27,"y":19,"v":180},{"x":27,"y":18,"v":180},{"x":27,"y":17,"v":165},{"x":27,"y":16,"v":155},{"x":27,"y":15,"v":135},{"x":27,"y":14,"v":135},{"x":27,"y":13,"v":135},{"x":27,"y":12,"v":135},{"x":27,"y":11,"v":155},{"x":27,"y":10,"v":175},{"x":27,"y":9,"v":190},{"x":27,"y":8,"v":190},{"x":27,"y":7,"v":170},{"x":27,"y":6,"v":160},{"x":27,"y":5,"v":160},{"x":27,"y":4,"v":175},{"x":27,"y":3,"v":205},{"x":27,"y":2,"v":230},{"x":27,"y":1,"v":245},
{"x":28,"y":64,"v":125},{"x":28,"y":63,"v":140},{"x":28,"y":62,"v":155},{"x":28,"y":61,"v":150},{"x":28,"y":60,"v":130},{"x":28,"y":59,"v":115},{"x":28,"y":58,"v":115},{"x":28,"y":57,"v":125},{"x":28,"y":56,"v":150},{"x":28,"y":55,"v":165},{"x":28,"y":54,"v":160},{"x":28,"y":53,"v":140},{"x":28,"y":52,"v":140},{"x":28,"y":51,"v":150},{"x":28,"y":50,"v":185},{"x":28,"y":49,"v":235},{"x":28,"y":48,"v":225},{"x":28,"y":47,"v":160},{"x":28,"y":46,"v":95},{"x":28,"y":45,"v":40},{"x":28,"y":44,"v":10},{"x":28,"y":43,"v":0},{"x":28,"y":42,"v":15},{"x":28,"y":41,"v":55},{"x":28,"y":40,"v":110},{"x":28,"y":39,"v":165},{"x":28,"y":38,"v":195},{"x":28,"y":37,"v":175},{"x":28,"y":36,"v":165},{"x":28,"y":35,"v":155},{"x":28,"y":34,"v":145},{"x":28,"y":33,"v":145},{"x":28,"y":32,"v":135},{"x":28,"y":31,"v":135},{"x":28,"y":30,"v":135},{"x":28,"y":29,"v":140},{"x":28,"y":28,"v":165},{"x":28,"y":27,"v":175},{"x":28,"y":26,"v":190},{"x":28,"y":25,"v":200},{"x":28,"y":24,"v":215},{"x":28,"y":23,"v":220},{"x":28,"y":22,"v":240},{"x":28,"y":21,"v":250},{"x":28,"y":20,"v":225},{"x":28,"y":19,"v":195},{"x":28,"y":18,"v":200},{"x":28,"y":17,"v":205},{"x":28,"y":16,"v":210},{"x":28,"y":15,"v":165},{"x":28,"y":14,"v":115},{"x":28,"y":13,"v":85},{"x":28,"y":12,"v":95},{"x":28,"y":11,"v":130},{"x":28,"y":10,"v":190},{"x":28,"y":9,"v":190},{"x":28,"y":8,"v":230},{"x":28,"y":7,"v":230},{"x":28,"y":6,"v":220},{"x":28,"y":5,"v":215},{"x":28,"y":4,"v":190},{"x":28,"y":3,"v":170},{"x":28,"y":2,"v":170},{"x":28,"y":1,"v":170},
{"x":29,"y":64,"v":185},{"x":29,"y":63,"v":235},{"x":29,"y":62,"v":225},{"x":29,"y":61,"v":175},{"x":29,"y":60,"v":165},{"x":29,"y":59,"v":190},{"x":29,"y":58,"v":225},{"x":29,"y":57,"v":215},{"x":29,"y":56,"v":170},{"x":29,"y":55,"v":150},{"x":29,"y":54,"v":125},{"x":29,"y":53,"v":115},{"x":29,"y":52,"v":125},{"x":29,"y":51,"v":145},{"x":29,"y":50,"v":170},{"x":29,"y":49,"v":195},{"x":29,"y":48,"v":205},{"x":29,"y":47,"v":195},{"x":29,"y":46,"v":155},{"x":29,"y":45,"v":105},{"x":29,"y":44,"v":65},{"x":29,"y":43,"v":45},{"x":29,"y":42,"v":65},{"x":29,"y":41,"v":100},{"x":29,"y":40,"v":140},{"x":29,"y":39,"v":170},{"x":29,"y":38,"v":190},{"x":29,"y":37,"v":190},{"x":29,"y":36,"v":185},{"x":29,"y":35,"v":185},{"x":29,"y":34,"v":205},{"x":29,"y":33,"v":225},{"x":29,"y":32,"v":205},{"x":29,"y":31,"v":175},{"x":29,"y":30,"v":175},{"x":29,"y":29,"v":190},{"x":29,"y":28,"v":225},{"x":29,"y":27,"v":240},{"x":29,"y":26,"v":225},{"x":29,"y":25,"v":200},{"x":29,"y":24,"v":200},{"x":29,"y":23,"v":220},{"x":29,"y":22,"v":245},{"x":29,"y":21,"v":225},{"x":29,"y":20,"v":185},{"x":29,"y":19,"v":165},{"x":29,"y":18,"v":150},{"x":29,"y":17,"v":135},{"x":29,"y":16,"v":135},{"x":29,"y":15,"v":135},{"x":29,"y":14,"v":135},{"x":29,"y":13,"v":160},{"x":29,"y":12,"v":200},{"x":29,"y":11,"v":220},{"x":29,"y":10,"v":165},{"x":29,"y":9,"v":130},{"x":29,"y":8,"v":125},{"x":29,"y":7,"v":140},{"x":29,"y":6,"v":150},{"x":29,"y":5,"v":150},{"x":29,"y":4,"v":150},{"x":29,"y":3,"v":155},{"x":29,"y":2,"v":180},{"x":29,"y":1,"v":195}
]},
"layer":[
{"mark":{"type":"rect","strokeWidth":0.6},
"encoding":{
"x":{"field":"x","type":"ordinal","scale":{"paddingInner":0,"paddingOuter":0},"sort":"ascending","axis":{"orient":"bottom","values":[5,10,15,20,25],"labelAngle":0,"labelFontSize":32,"labelPadding":20,"labelColor":"#000","labelFont":"Open Sans","tickColor":"#000","tickSize":20,"tickWidth":1.5,"domain":true,"domainColor":"#000","domainWidth":1.5,"grid":false,"title":"1:dim(x)[1]","titleFontSize":32,"titleFontWeight":"normal","titleColor":"#000","titleFont":"Open Sans","titlePadding":49,"zindex":1}},
"y":{"field":"y","type":"ordinal","scale":{"paddingInner":0,"paddingOuter":0},"sort":"descending","axis":{"orient":"left","values":[10,20,30,40,50,60],"labelAngle":-90,"labelAlign":"center","labelBaseline":"bottom","labelFontSize":32,"labelPadding":24,"labelColor":"#000","labelFont":"Open Sans","tickColor":"#000","tickSize":20,"tickWidth":1.5,"domain":true,"domainColor":"#000","domainWidth":1.5,"grid":false,"title":"1:dim(x)[2]","titleFontSize":32,"titleFontWeight":"normal","titleColor":"#000","titleFont":"Open Sans","titlePadding":38,"zindex":1}},
"fill":{"field":"v","type":"quantitative","scale":{"type":"pow","exponent":0.88,"domain":[0,255],"range":["#000000","#ffffff"]},"legend":null},
"stroke":{"field":"v","type":"quantitative","scale":{"type":"pow","exponent":0.88,"domain":[0,255],"range":["#000000","#ffffff"]},"legend":null}
}},
{"mark":{"type":"rect","opacity":0},
"encoding":{
"x":{"field":"x","type":"ordinal","sort":"ascending","axis":{"orient":"top","labels":false,"ticks":false,"domain":true,"domainColor":"#000","domainWidth":1.5,"grid":false,"title":null,"zindex":1}},
"y":{"field":"y","type":"ordinal","sort":"descending","axis":{"orient":"right","labels":false,"ticks":false,"domain":true,"domainColor":"#000","domainWidth":1.5,"grid":false,"title":null,"zindex":1}}
}}
],
"resolve":{"axis":{"x":"independent","y":"independent"}}
}
